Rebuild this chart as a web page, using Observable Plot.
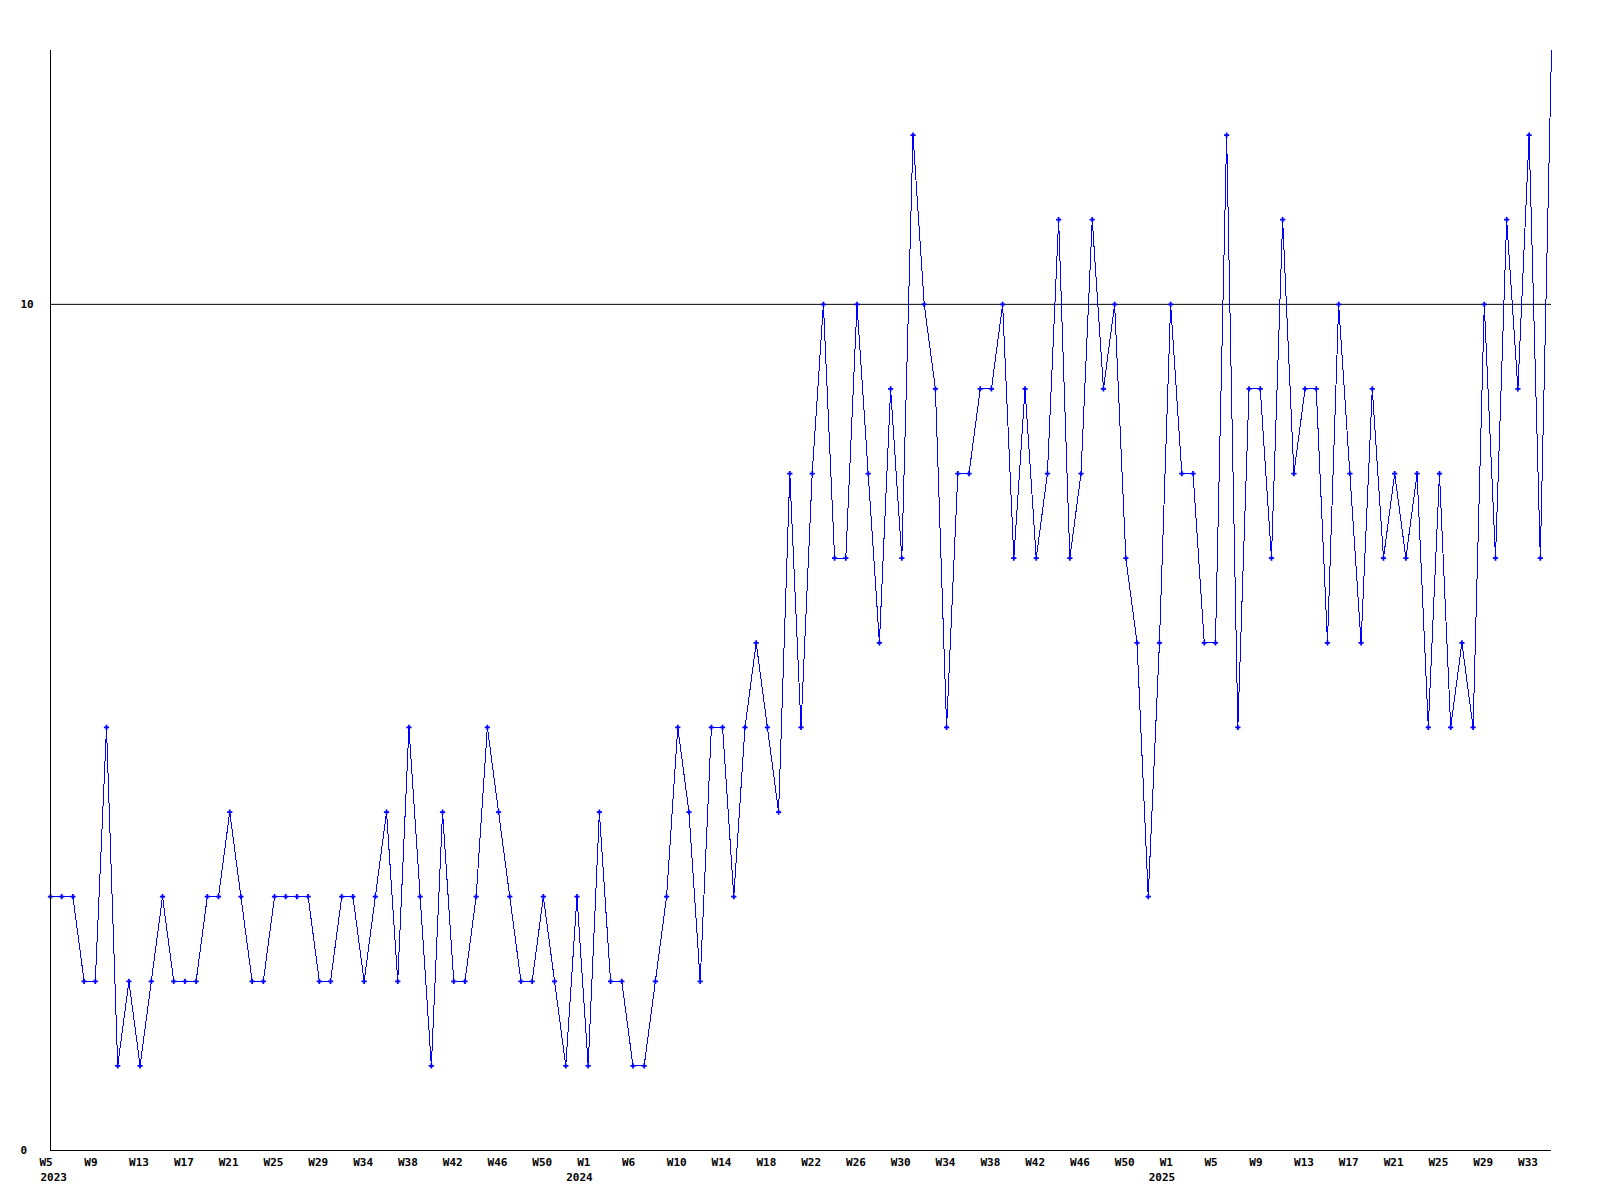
<!DOCTYPE html>
<html>
<head>
<meta charset="utf-8">
<script src="https://cdn.jsdelivr.net/npm/d3@7"></script>
<script src="https://cdn.jsdelivr.net/npm/@observablehq/plot@0.6"></script>
<style>
  html, body { margin: 0; padding: 0; background: #fff; }
  #chart svg { display: block; }
</style>
</head>
<body>
<div id="chart"></div>
<script>
// Weekly values, 2023-W05 .. 2025-W35 (one per week)
const values = [
  3,3,3,2,2,5,1,2,1,2,
  3,2,2,2,3,3,4,3,2,2,
  3,3,3,3,2,2,3,3,2,3,
  4,2,5,3,1,4,2,2,3,5,
  4,3,2,2,3,2,1,3,1,4,
  2,2,1,1,2,3,5,4,2,5,
  5,3,5,6,5,4,8,5,8,10,
  7,7,10,8,6,9,7,12,10,9,
  5,8,8,9,9,10,7,9,7,8,
  11,7,8,11,9,10,7,6,3,6,
  10,8,8,6,6,12,5,9,9,7,
  11,8,9,9,6,10,8,6,9,7,
  8,7,8,5,8,5,6,5,10,7,
  11,9,12,7,13
];

// X tick positions (week index from 2023-W05) and their labels
const tickIndex  = [0,4,8,12,16,20,24,28,32,36,40,44,48,52,56,60,64,68,72,76,80,84,88,92,96,100,104,108,112,116,120,124,128,132];
const tickLabels = ["W5","W9","W13","W17","W21","W25","W29","W34","W38","W42","W46","W50",
                    "W1","W6","W10","W14","W18","W22","W26","W30","W34","W38","W42","W46","W50",
                    "W1","W5","W9","W13","W17","W21","W25","W29","W33"];
const yearIndex  = [0, 48, 100];
const yearLabels = ["2023", "2024", "2025"];

const yTicks = [0, 10];
const yMax = 13;

const data = values.map((v, i) => ({i, v}));
const weekLabel = new Map(tickIndex.map((t, k) => [t, tickLabels[k]]));
const yearLabel = new Map(yearIndex.map((t, k) => [t, yearLabels[k]]));

const font = "'DejaVu Sans Mono', 'Liberation Mono', monospace";

const chart = Plot.plot({
  width: 1600,
  height: 1200,
  marginLeft: 50,
  marginRight: 49,
  marginTop: 50,
  marginBottom: 50,
  x: {domain: [0, values.length - 1]},
  y: {domain: [0, yMax]},
  style: {fontFamily: font, fontSize: "11px", fontWeight: "bold", color: "#000", background: "#fff"},
  marks: [
    Plot.ruleY([10], {stroke: "#000", strokeWidth: 1}),
    Plot.lineY(data, {x: "i", y: "v", stroke: "#0000ff", strokeWidth: 1, shapeRendering: "crispEdges"}),
    Plot.dot(data.filter(d => d.v < yMax), {x: "i", y: "v", symbol: "cross", r: 2.2, fill: "#0000ff", stroke: "none"}),
    Plot.ruleX([0], {stroke: "#000", strokeWidth: 1}),
    Plot.ruleY([0], {stroke: "#000", strokeWidth: 1}),
    Plot.axisX(tickIndex, {tickSize: 0, tickPadding: 8, textAnchor: "start", dx: -11, label: null,
      tickFormat: d => weekLabel.get(d), fill: "#000"}),
    Plot.axisX([yearIndex[0]], {tickSize: 0, tickPadding: 23, textAnchor: "start", dx: -10, label: null,
      tickFormat: d => yearLabel.get(d), fill: "#000"}),
    Plot.axisX(yearIndex.slice(1), {tickSize: 0, tickPadding: 23, textAnchor: "start", dx: -22, label: null,
      tickFormat: d => yearLabel.get(d), fill: "#000"}),
    Plot.axisY(yTicks, {tickSize: 0, tickPadding: 30, textAnchor: "start", label: null,
      tickFormat: d => String(d), fill: "#000"})
  ]
});

document.getElementById("chart").appendChild(chart);
</script>
</body>
</html>
